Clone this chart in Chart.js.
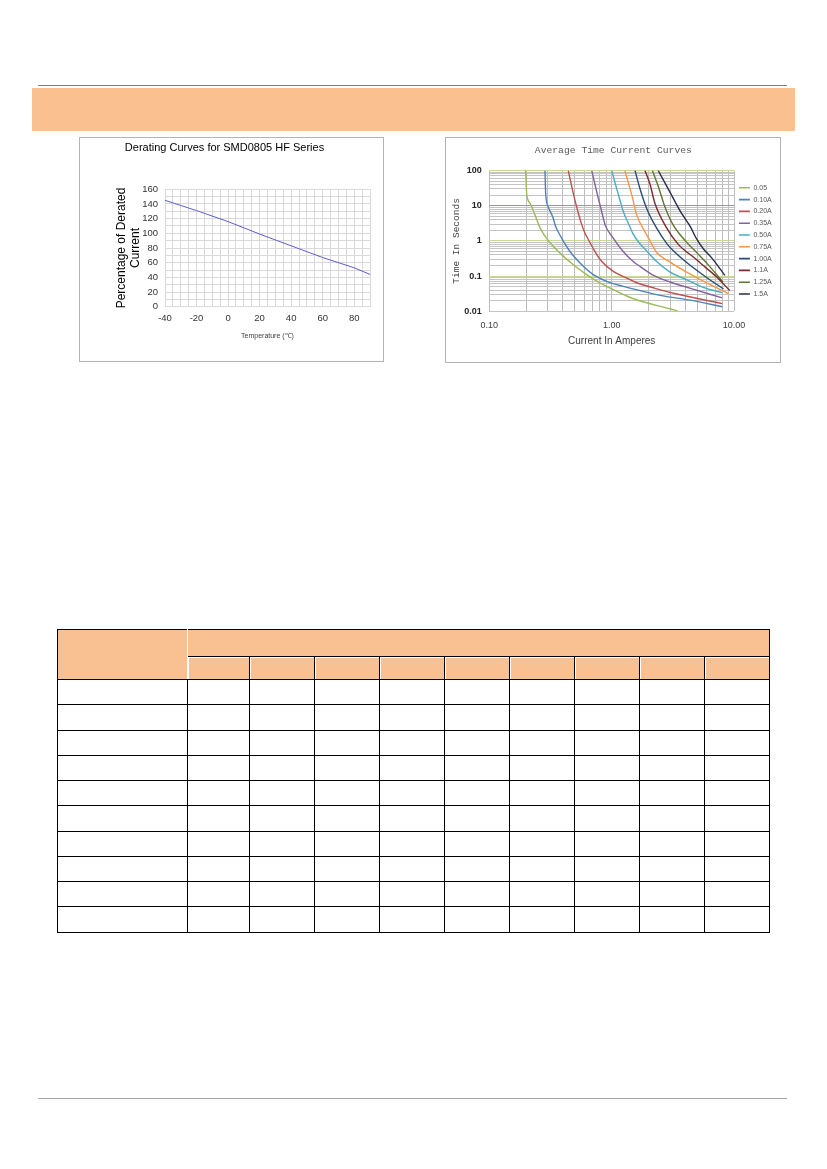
<!DOCTYPE html>
<html>
<head>
<meta charset="utf-8">
<script src="https://cdn.jsdelivr.net/npm/chart.js@4.4.1/dist/chart.umd.min.js"></script>
<style>
  html, body { margin: 0; padding: 0; background: #fff; }
  body { width: 827px; height: 1169px; position: relative; overflow: hidden; font-family: "Liberation Sans", Arial, sans-serif; }
  .rule { position: absolute; left: 38px; width: 749px; height: 1px; }
  .band { position: absolute; left: 32px; top: 88px; width: 763px; height: 43px; background: #fac090; }
  .frame { position: absolute; border: 1px solid #b4b4b4; box-sizing: border-box; }
  canvas { position: absolute; }
  table.spec { position: absolute; left: 57px; top: 629px; width: 712px; border-collapse: collapse; table-layout: fixed; }
  table.spec td { border: 1px solid #000; padding: 0; }
  table.spec td.h { background: #f9c091; }
  table.spec td.h1 { border-right: 1px solid #fff; }
  table.spec td.h2 { box-shadow: inset 1px 1px 0 #fff; }
</style>
</head>
<body>
<div class="rule" style="top:85px;background:#808080"></div>
<div class="band"></div>

<div class="frame" style="left:79px;top:137px;width:305px;height:225px"></div>
<canvas id="derating" width="311" height="224" style="left:79px;top:137px;width:311px;height:224px"></canvas>

<div class="frame" style="left:445px;top:137px;width:336px;height:226px"></div>
<canvas id="timeCurrent" width="380" height="225" style="left:445px;top:137px;width:380px;height:225px"></canvas>

<table class="spec">
  <colgroup>
    <col style="width:130px"><col style="width:62px"><col style="width:65px"><col style="width:65px"><col style="width:65px">
    <col style="width:65px"><col style="width:65px"><col style="width:65px"><col style="width:65px"><col style="width:65px">
  </colgroup>
  <tr style="height:27px"><td class="h h1" rowspan="2"></td><td class="h" colspan="9"></td></tr>
  <tr style="height:23px"><td class="h h2"></td><td class="h h2"></td><td class="h h2"></td><td class="h h2"></td><td class="h h2"></td><td class="h h2"></td><td class="h h2"></td><td class="h h2"></td><td class="h h2"></td></tr>
  <tr style="height:25.25px"><td></td><td></td><td></td><td></td><td></td><td></td><td></td><td></td><td></td><td></td></tr>
  <tr style="height:25.25px"><td></td><td></td><td></td><td></td><td></td><td></td><td></td><td></td><td></td><td></td></tr>
  <tr style="height:25.25px"><td></td><td></td><td></td><td></td><td></td><td></td><td></td><td></td><td></td><td></td></tr>
  <tr style="height:25.25px"><td></td><td></td><td></td><td></td><td></td><td></td><td></td><td></td><td></td><td></td></tr>
  <tr style="height:25.25px"><td></td><td></td><td></td><td></td><td></td><td></td><td></td><td></td><td></td><td></td></tr>
  <tr style="height:25.25px"><td></td><td></td><td></td><td></td><td></td><td></td><td></td><td></td><td></td><td></td></tr>
  <tr style="height:25.25px"><td></td><td></td><td></td><td></td><td></td><td></td><td></td><td></td><td></td><td></td></tr>
  <tr style="height:25.25px"><td></td><td></td><td></td><td></td><td></td><td></td><td></td><td></td><td></td><td></td></tr>
  <tr style="height:25.25px"><td></td><td></td><td></td><td></td><td></td><td></td><td></td><td></td><td></td><td></td></tr>
  <tr style="height:25.25px"><td></td><td></td><td></td><td></td><td></td><td></td><td></td><td></td><td></td><td></td></tr>
</table>

<div class="rule" style="top:1098px;background:#a6a6a6"></div>

<script>
// derating curve
const temperatures = [-40, -20, 0, 20, 40, 60, 80, 90];
const deratedPercent = [145, 131, 116, 99, 83, 67, 53, 44];
const tempTickLabels = [-40, -20, 0, 20, 40, 60, 80];
const percentTickLabels = [0, 20, 40, 60, 80, 100, 120, 140, 160];

// time-current curves, [amperes, seconds]
const fuseRatings = ['0.05', '0.10A', '0.20A', '0.35A', '0.50A', '0.75A', '1.00A', '1.1A', '1.25A', '1.5A'];
const curve005 = [[0.198, 100], [0.202, 22], [0.215, 11.8], [0.236, 5.5], [0.262, 2.2], [0.313, 0.9], [0.378, 0.45], [0.486, 0.21], [0.625, 0.11], [0.80, 0.064], [1.10, 0.037], [1.55, 0.022], [3.09, 0.0114], [3.45, 0.0102]];
const curve010 = [[0.285, 100], [0.289, 22], [0.303, 9.4], [0.333, 4.4], [0.344, 2.9], [0.390, 1.2], [0.456, 0.5], [0.551, 0.235], [0.707, 0.11], [0.91, 0.071], [1.24, 0.051], [1.55, 0.042], [2.56, 0.028], [4.4, 0.0207], [8.0, 0.0135]];
const curve020 = [[0.442, 100], [0.486, 22], [0.534, 6.1], [0.569, 2.9], [0.605, 1.66], [0.644, 1.1], [0.73, 0.5], [0.83, 0.26], [1.03, 0.136], [1.33, 0.088], [1.55, 0.068], [2.26, 0.045], [3.4, 0.031], [8.0, 0.0165]];
const curve035 = [[0.687, 100], [0.754, 25], [0.854, 4.4], [0.882, 2.9], [1.03, 1.2], [1.24, 0.5], [1.5, 0.26], [1.7, 0.19], [2.2, 0.105], [3.0, 0.068], [4.4, 0.045], [8.0, 0.024]];
const curve050 = [[1.0, 100], [1.12, 24], [1.25, 6.5], [1.35, 3.5], [1.48, 1.7], [1.65, 0.95], [1.9, 0.55], [2.33, 0.26], [3.0, 0.13], [3.5, 0.10], [4.4, 0.07], [5.6, 0.048], [8.0, 0.034]];
const curve075 = [[1.28, 100], [1.46, 20], [1.6, 5.5], [1.87, 1.8], [2.06, 1.0], [2.33, 0.47], [2.85, 0.28], [4.0, 0.136], [5.5, 0.074], [9.0, 0.032]];
const curve100 = [[1.55, 100], [1.70, 31], [1.93, 8.4], [2.33, 2.3], [2.85, 0.8], [3.3, 0.47], [4.4, 0.2], [6.0, 0.09], [8.2, 0.043]];
const curve110 = [[1.87, 100], [2.06, 40], [2.25, 12], [2.8, 2.4], [3.5, 0.8], [4.0, 0.52], [4.6, 0.36], [5.6, 0.2], [7.2, 0.095], [9.2, 0.039]];
const curve125 = [[2.15, 100], [2.4, 36], [2.7, 10], [3.15, 3.0], [4.0, 1.0], [5.0, 0.45], [6.0, 0.23], [8.1, 0.068]];
const curve150 = [[2.4, 100], [3.0, 24], [3.65, 6.8], [4.4, 2.5], [4.9, 1.2], [5.6, 0.6], [6.56, 0.33], [8.4, 0.105]];
const curves = [curve005, curve010, curve020, curve035, curve050, curve075, curve100, curve110, curve125, curve150];

const currentTicks = [0.1, 1, 10];
const currentTickLabels = ['0.10', '1.00', '10.00'];
const timeTicks = [0.01, 0.1, 1, 10, 100];
const timeTickLabels = ['0.01', '0.1', '1', '10', '100'];

const lineColors = ['#9bbb59', '#4f81bd', '#c0504d', '#8064a2', '#4bacc6', '#f79646', '#2a4d78', '#7b2c2a', '#5f7530', '#262f4c'];

function findTick(list, v) {
    return list.findIndex(t => Math.abs(v - t) < Math.abs(t) * 1e-6);
}

// keep only 1..9 x 10^n on log axes
function wholeMantissa(scale) {
    scale.ticks = scale.ticks.filter(t => {
        const m = t.value / Math.pow(10, Math.floor(Math.log10(t.value) + 1e-9));
        return Math.abs(m - Math.round(m)) < 1e-6;
    });
}

new Chart(document.getElementById('derating'), {
    type: 'line',
    data: {
        datasets: [{
            data: temperatures.map((t, i) => ({ x: t, y: deratedPercent[i] })),
            borderColor: '#5c5cd6',
            borderWidth: 1,
            pointRadius: 0,
            tension: 0
        }]
    },
    options: {
        responsive: false,
        animation: false,
        layout: { padding: { top: 0, right: 20, bottom: 0, left: 0 } },
        plugins: {
            legend: { display: false },
            tooltip: { enabled: false },
            title: {
                display: true,
                text: 'Derating Curves for SMD0805 HF Series',
                color: '#000',
                font: { family: 'Liberation Sans', size: 11, weight: 'normal', lineHeight: 1.2 },
                padding: { top: 4.1, bottom: 35 }
            }
        },
        scales: {
            x: {
                type: 'linear',
                min: -40,
                max: 90,
                afterFit: s => { s.height = 54.3; },
                ticks: {
                    stepSize: 5,
                    autoSkip: false,
                    maxRotation: 0,
                    padding: 6,
                    color: '#333',
                    font: { family: 'Liberation Sans', size: 9.5 },
                    callback: v => tempTickLabels.includes(v) ? String(v) : ''
                },
                grid: { color: '#d9d9d9', drawTicks: false },
                border: { display: false },
                title: {
                    display: true,
                    text: 'Temperature (℃)',
                    color: '#404040',
                    font: { family: 'Liberation Sans', size: 7 },
                    padding: { top: 0, bottom: 21 }
                }
            },
            y: {
                min: 0,
                max: 160,
                afterFit: s => { s.width = 86; },
                ticks: {
                    stepSize: 10,
                    autoSkip: false,
                    padding: 7,
                    color: '#333',
                    font: { family: 'Liberation Sans', size: 9.5 },
                    callback: v => percentTickLabels.includes(v) ? String(v) : ''
                },
                grid: { color: '#d9d9d9', drawTicks: false },
                border: { display: false },
                title: {
                    display: true,
                    text: ['Percentage of Derated', 'Current'],
                    color: '#000',
                    font: { family: 'Liberation Sans', size: 12, lineHeight: 1.17 },
                    padding: { top: 35.3, bottom: 0 }
                }
            }
        }
    }
});

const minorGrid = '#c4c4c4';
function timeGridColor(ctx) {
    const v = ctx.tick ? ctx.tick.value : 0;
    if (Math.abs(v - 10) < 1e-6) return '#9ea262';
    if (Math.abs(v - 100) < 1e-6 || Math.abs(v - 1) < 1e-6 || Math.abs(v - 0.1) < 1e-6) return '#c8d79a';
    return minorGrid;
}

new Chart(document.getElementById('timeCurrent'), {
    type: 'line',
    data: {
        datasets: fuseRatings.map((label, i) => ({
            label: label,
            data: curves[i].map(p => ({ x: p[0], y: p[1] })),
            borderColor: lineColors[i],
            backgroundColor: lineColors[i],
            borderWidth: 1.4,
            pointRadius: 0,
            fill: false,
            cubicInterpolationMode: 'monotone'
        }))
    },
    options: {
        responsive: false,
        animation: false,
        layout: { padding: { top: 0, right: 43.3, bottom: 0, left: 0 } },
        plugins: {
            tooltip: { enabled: false },
            title: {
                display: true,
                text: 'Average Time Current Curves',
                color: '#595959',
                font: { family: 'Liberation Mono', size: 9.7, weight: 'normal', lineHeight: 1.2 },
                padding: { top: 7.2, bottom: 14.7 }
            },
            legend: {
                position: 'right',
                fullSize: false,
                align: 'center',
                labels: {
                    color: '#595959',
                    font: { family: 'Liberation Sans', size: 7 },
                    boxWidth: 11,
                    boxHeight: 1.6,
                    padding: 4.8,
                    generateLabels: chart => Chart.defaults.plugins.legend.labels.generateLabels(chart)
                        .map(item => Object.assign(item, { lineWidth: 0, fillStyle: item.strokeStyle }))
                }
            }
        },
        scales: {
            x: {
                type: 'logarithmic',
                min: 0.1,
                max: 10,
                afterBuildTicks: wholeMantissa,
                afterFit: s => { s.height = 50.7; },
                ticks: {
                    autoSkip: false,
                    maxRotation: 0,
                    padding: 8.8,
                    color: '#404040',
                    font: { family: 'Liberation Sans', size: 9 },
                    callback: v => { const k = findTick(currentTicks, v); return k >= 0 ? currentTickLabels[k] : ''; }
                },
                grid: { color: '#bdbdbd', drawTicks: false },
                border: { display: false },
                title: {
                    display: true,
                    text: 'Current In Amperes',
                    color: '#404040',
                    font: { family: 'Liberation Sans', size: 10 },
                    padding: { top: 0, bottom: 15 }
                }
            },
            y: {
                type: 'logarithmic',
                min: 0.01,
                max: 100,
                afterBuildTicks: wholeMantissa,
                afterFit: s => { s.width = 44.3; },
                ticks: {
                    autoSkip: false,
                    padding: 7.6,
                    color: '#262626',
                    font: { family: 'Liberation Sans', size: 9, weight: 'bold' },
                    callback: v => { const k = findTick(timeTicks, v); return k >= 0 ? timeTickLabels[k] : ''; }
                },
                grid: { color: timeGridColor, drawTicks: false },
                border: { display: false },
                title: {
                    display: true,
                    text: 'Time In Seconds',
                    color: '#404040',
                    font: { family: 'Liberation Mono', size: 9.5 },
                    padding: { top: 5.3, bottom: 0 }
                }
            }
        }
    }
});
</script>
</body>
</html>
